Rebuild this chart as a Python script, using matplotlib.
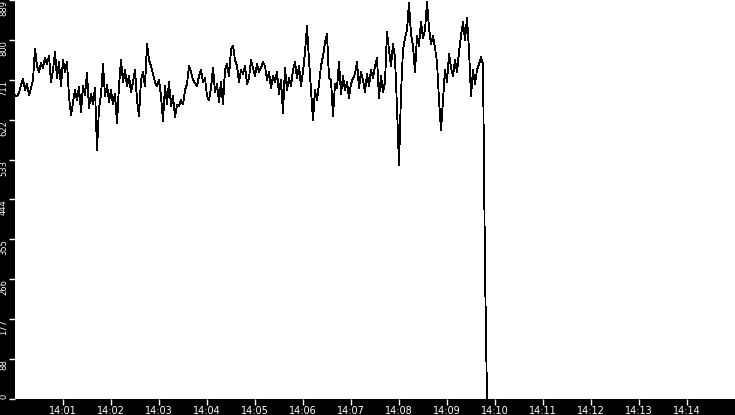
import numpy as np
import matplotlib.pyplot as plt
from matplotlib import font_manager

# values, one every 2.5 s starting at 14:00:00
values = [
    677, 675, 682, 700, 713, 688, 702, 677, 693, 711,
    780, 742, 729, 749, 738, 760, 746, 764, 706, 733,
    773, 715, 751, 697, 755, 729, 751, 673, 633, 660,
    688, 666, 695, 640, 697, 677, 726, 648, 680, 657,
    693, 555, 648, 677, 746, 675, 700, 662, 688, 657,
    680, 615, 697, 755, 706, 733, 697, 720, 684, 706,
    733, 666, 631, 711, 729, 697, 791, 755, 742, 724,
    706, 697, 711, 675, 619, 697, 657, 706, 653, 675,
    628, 655, 653, 666, 657, 688, 702, 742, 729, 711,
    704, 697, 720, 733, 706, 715, 675, 666, 693, 738,
    684, 702, 662, 706, 657, 733, 746, 720, 778, 787,
    755, 742, 706, 733, 724, 742, 702, 715,
    755, 738, 720, 746, 729, 738, 751, 742, 711, 729,
    693, 720, 706, 729, 680, 711, 637, 738, 688, 715,
    697, 733, 751, 715, 742, 697, 729, 773, 831, 755,
    688, 622, 688, 666, 702, 742, 764, 795, 813, 715,
    711, 631, 702, 693, 751, 680, 720, 688, 706, 671,
    702, 715, 724, 751, 693, 729, 711, 684, 724, 697,
    733, 715, 742, 760, 671, 720, 684, 706, 818, 778,
    742, 791, 760, 650, 521, 680, 778, 804, 822, 882,
    813, 787, 729, 809, 787, 840, 804, 822, 885, 827,
    791, 809, 782, 751, 666, 599, 666, 733, 706, 769,
    738, 720, 755, 729, 773, 809, 840, 800, 849, 778,
    675, 733, 702, 733, 746, 762, 746,
]
tail = [290, 0]  # signal drops out
step = 2.5  # seconds

minutes = list(range(1, 15))
tick_labels = ["14:%02d" % m for m in minutes]
y_ticks = np.linspace(0, 889, 11)

# narrow font if we have it
names = {f.name for f in font_manager.fontManager.ttflist}
fam = 'Liberation Sans Narrow' if 'Liberation Sans Narrow' in names else 'DejaVu Sans'

series = values + tail
t = np.arange(len(series)) * step

fig = plt.figure(figsize=(7.35, 4.15), dpi=100, facecolor='black')
ax = fig.add_axes([15 / 735, 16 / 415, 720 / 735, 399 / 415])
ax.set_facecolor('white')
ax.plot(t, series, color='black', lw=0.6, antialiased=False)

ax.set_xlim(0, 900)
ax.set_ylim(0, 889)
for s in ax.spines.values():
    s.set_visible(False)

ax.set_xticks([m * 60 for m in minutes])
ax.set_xticklabels(tick_labels, family='DejaVu Sans')
ax.set_yticks(y_ticks)
ax.set_yticklabels([str(int(v)) for v in y_ticks], rotation=90, va='top', family=fam)
ax.yaxis.get_ticklabels()[0].set_va('bottom')

ax.tick_params(colors='white', length=4, width=1, pad=1)
ax.tick_params(axis='x', labelsize=7)
ax.tick_params(axis='y', labelsize=7 if fam != 'DejaVu Sans' else 6)

fig.savefig('out.png', dpi=100, facecolor='black')
